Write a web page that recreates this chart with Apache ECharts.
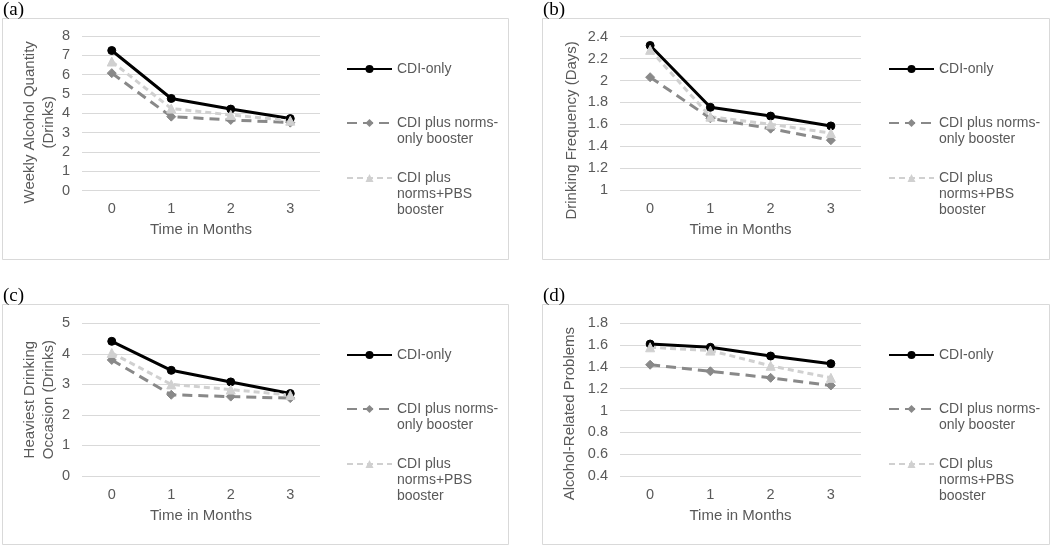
<!DOCTYPE html>
<html>
<head>
<meta charset="utf-8">
<script src="https://cdn.jsdelivr.net/npm/echarts@6/dist/echarts.min.js"></script>
<style>
html,body{margin:0;padding:0;background:#fff;}
#chart{width:1050px;height:546px;}
</style>
</head>
<body>
<div id="chart"></div>
<script>
// ---- Data ----
const months = ['0', '1', '2', '3'];
const seriesNames = ['CDI-only', 'CDI plus norms-only booster', 'CDI plus norms+PBS booster'];
const legendLabels = {
  'CDI-only': ['CDI-only'],
  'CDI plus norms-only booster': ['CDI plus norms-', 'only booster'],
  'CDI plus norms+PBS booster': ['CDI plus', 'norms+PBS', 'booster']
};
const panelLetters = ['(a)', '(b)', '(c)', '(d)'];
const yTitles = ['Weekly Alcohol Quantity\n(Drinks)', 'Drinking Frequency (Days)', 'Heaviest Drinking\nOccasion (Drinks)', 'Alcohol-Related Problems'];
const xTitle = 'Time in Months';

// (a) Weekly Alcohol Quantity
const weeklyCDI = [7.25, 4.77, 4.22, 3.73];
const weeklyNorms = [6.08, 3.83, 3.66, 3.52];
const weeklyPBS = [6.68, 4.25, 3.92, 3.62];
// (b) Drinking Frequency
const freqCDI = [2.32, 1.755, 1.675, 1.585];
const freqNorms = [2.03, 1.655, 1.56, 1.455];
const freqPBS = [2.28, 1.67, 1.60, 1.52];
// (c) Heaviest Drinking Occasion
const heavyCDI = [4.41, 3.46, 3.08, 2.70];
const heavyNorms = [3.80, 2.66, 2.60, 2.55];
const heavyPBS = [4.03, 3.00, 2.83, 2.65];
// (d) Alcohol-Related Problems
const probCDI = [1.61, 1.58, 1.50, 1.43];
const probNorms = [1.42, 1.36, 1.30, 1.23];
const probPBS = [1.58, 1.55, 1.41, 1.30];

// y-axis ranges
const yMin = [0, 1, 0, 0.4];
const yMax = [8, 2.4, 5, 1.8];
const yStep = [1, 0.2, 1, 0.2];

const panelData = [
  [weeklyCDI, weeklyNorms, weeklyPBS],
  [freqCDI, freqNorms, freqPBS],
  [heavyCDI, heavyNorms, heavyPBS],
  [probCDI, probNorms, probPBS]
];

// ---- Layout / style ----
const FONT = "'Liberation Sans', Arial, sans-serif";
const TXT = '#595959';
const GRIDC = '#d9d9d9';
const panels = [
  {box: [2, 18, 506, 241], grid: [82, 36, 238, 154.7], legendLeft: 346, yGap: 20, yShift: 9},
  {box: [542, 18, 507, 241], grid: [620, 36.7, 241, 153.3], legendLeft: 888, yGap: 39, yShift: 17},
  {box: [2, 304, 506, 240], grid: [82, 323.3, 238, 152.7], legendLeft: 346, yGap: 23, yShift: 0},
  {box: [542, 304, 507, 240], grid: [620, 323.3, 241, 152.7], legendLeft: 888, yGap: 41, yShift: 14}
];
const styles = [
  {color: '#000000', type: 'solid', symbol: 'circle', size: 8},
  {color: '#898989', type: [10, 6], symbol: 'diamond', size: 9},
  {color: '#d0d0d0', type: [6, 4], symbol: 'triangle', size: 9}
];
const legendIconOffsets = [51, 105, 160];

const grid = [], xAxis = [], yAxis = [], series = [], legend = [], graphic = [];

panels.forEach((p, i) => {
  grid.push({left: p.grid[0], top: p.grid[1], width: p.grid[2], height: p.grid[3], containLabel: false});
  xAxis.push({
    type: 'category', gridIndex: i, data: months, boundaryGap: true,
    axisLine: {show: false}, axisTick: {show: false},
    axisLabel: {color: TXT, fontSize: 14.5, fontFamily: FONT, margin: 11},
    name: xTitle, nameLocation: 'middle', nameGap: 32,
    nameTextStyle: {color: TXT, fontSize: 15, fontFamily: FONT}
  });
  yAxis.push({
    type: 'value', gridIndex: i, min: yMin[i], max: yMax[i], interval: yStep[i],
    axisLine: {show: false}, axisTick: {show: false},
    splitLine: {lineStyle: {color: GRIDC, width: 1}},
    axisLabel: {color: TXT, fontSize: 14.5, fontFamily: FONT, margin: 12},
    name: yTitles[i], nameLocation: 'middle', nameGap: p.yGap, nameRotate: 90,
    nameTextStyle: {color: TXT, fontSize: 15, fontFamily: FONT, lineHeight: 19,
      padding: [0, p.yShift * 2, 0, 0]}
  });
  panelData[i].forEach((vals, s) => {
    const st = styles[s];
    series.push({
      type: 'line', name: seriesNames[s], xAxisIndex: i, yAxisIndex: i,
      data: vals, symbol: st.symbol, symbolSize: st.size, showSymbol: true,
      lineStyle: {color: st.color, width: 3, type: st.type},
      itemStyle: {color: st.color, borderColor: st.color},
      animation: false
    });
  });
  seriesNames.forEach((nm, s) => {
    const lines = legendLabels[nm].length;
    const H = (2 * lines - 1) * 16;
    legend.push({
      data: [nm], orient: 'vertical', left: p.legendLeft,
      top: p.box[1] + legendIconOffsets[s] - H / 2,
      padding: 0, itemWidth: 45, itemHeight: 10, itemGap: 0,
      selectedMode: false,
      // leading blank lines keep the icon level with the first text line
      formatter: (name) => '\n'.repeat(legendLabels[name].length - 1) + legendLabels[name].join('\n'),
      textStyle: {color: TXT, fontSize: 14, fontFamily: FONT, lineHeight: 16}
    });
  });
  graphic.push({
    type: 'rect', z: -10, silent: true,
    shape: {x: p.box[0] + 0.5, y: p.box[1] + 0.5, width: p.box[2], height: p.box[3]},
    style: {fill: 'none', stroke: GRIDC, lineWidth: 1}
  });
  graphic.push({
    type: 'text', silent: true, left: p.box[0] + 1, top: p.box[1] - 17,
    style: {text: panelLetters[i], fill: '#000', fontSize: 19, fontFamily: "'Liberation Serif', 'Times New Roman', serif"}
  });
});

const chart = echarts.init(document.getElementById('chart'), null, {renderer: 'canvas'});
chart.setOption({
  animation: false,
  backgroundColor: '#ffffff',
  grid, xAxis, yAxis, series, legend, graphic
});
</script>
</body>
</html>
